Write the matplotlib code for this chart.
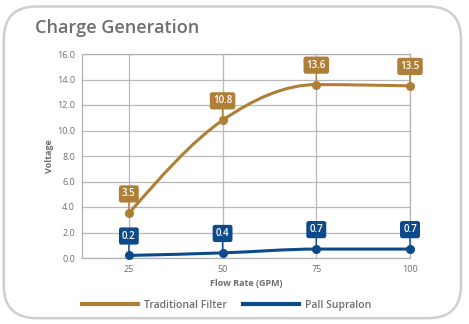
import numpy as np
import matplotlib.pyplot as plt
from matplotlib.path import Path
from matplotlib.patches import PathPatch, FancyBboxPatch
from matplotlib.lines import Line2D

plt.rcParams['font.family'] = ['Open Sans', 'DejaVu Sans']

flow = [25, 50, 75, 100]
traditional = [3.5, 10.8, 13.6, 13.5]
supralon = [0.2, 0.4, 0.7, 0.7]
yticks = [0, 2, 4, 6, 8, 10, 12, 14, 16]

gold = '#b07f37'
blue = '#0d4a8a'
grey_txt = '#6e6e6e'


def monotone_path(x, y):
    # monotone cubic (like d3 curveMonotoneX) as bezier segments
    x = np.asarray(x, float)
    y = np.asarray(y, float)
    h = np.diff(x)
    s = np.diff(y) / h
    n = len(x)
    t = np.zeros(n)
    for i in range(1, n - 1):
        if s[i - 1] * s[i] <= 0:
            t[i] = 0
        else:
            p = (s[i - 1] * h[i] + s[i] * h[i - 1]) / (h[i - 1] + h[i])
            t[i] = np.sign(s[i - 1]) * min(abs(s[i - 1]), abs(s[i]), 0.5 * abs(p)) * 2
    t[0] = (3 * s[0] - t[1]) / 2 if n > 2 else s[0]
    t[-1] = (3 * s[-1] - t[-2]) / 2 if n > 2 else s[-1]
    verts = [(x[0], y[0])]
    codes = [Path.MOVETO]
    for i in range(n - 1):
        d = h[i] / 3
        verts += [(x[i] + d, y[i] + d * t[i]), (x[i + 1] - d, y[i + 1] - d * t[i + 1]), (x[i + 1], y[i + 1])]
        codes += [Path.CURVE4] * 3
    return Path(verts, codes)


fig = plt.figure(figsize=(4.69, 3.24), dpi=100)

# card outline
card = FancyBboxPatch((0.008, 0.018), 0.975, 0.962, boxstyle='round,pad=0,rounding_size=0.07',
                      transform=fig.transFigure, fc='white', ec='#cfcfcf', lw=1.8,
                      mutation_aspect=469 / 324, zorder=-10)
fig.patches.append(card)

fig.text(0.075, 0.915, 'Charge Generation', fontsize=13, fontweight='semibold',
         color=grey_txt, va='center', ha='left')

ax = fig.add_axes([82 / 469, 1 - 258 / 324, (410 - 82) / 469, (258 - 54) / 324])
ax.patch.set_alpha(0)
ax.set_xlim(12.5, 100)
ax.set_ylim(0, 16)
ax.set_xticks(flow)
ax.set_yticks(yticks)
ax.set_yticklabels(['%.1f' % v for v in yticks])
ax.grid(True, color='#b8b8b8', lw=0.9)
ax.set_axisbelow(True)
for sp in ax.spines.values():
    sp.set_color('#b0b0b0')
    sp.set_linewidth(0.9)
ax.tick_params(axis='both', colors='#b0b0b0', labelcolor=grey_txt, labelsize=6.5, length=0, pad=5)

ax.set_xlabel('Flow Rate (GPM)', fontsize=6.5, fontweight='bold', color=grey_txt, labelpad=4)
ax.set_ylabel('Voltage', fontsize=6.5, fontweight='bold', color=grey_txt, labelpad=2)

for vals, col in [(traditional, gold), (supralon, blue)]:
    ax.add_patch(PathPatch(monotone_path(flow, vals), fc='none', ec=col, lw=2.2, capstyle='round', zorder=3))
    ax.plot(flow, vals, 'o', color=col, ms=5.5, zorder=4, clip_on=False)
    for xv, yv in zip(flow, vals):
        ax.annotate('%.1f' % yv, (xv, yv), xytext=(0, 14), textcoords='offset points',
                    ha='center', va='center', fontsize=7, fontweight='semibold', color='white',
                    bbox=dict(boxstyle='round,pad=0.32,rounding_size=0.25', fc=col, ec=col, lw=0),
                    arrowprops=dict(arrowstyle='-', color=col, lw=1.0, shrinkA=0, shrinkB=0),
                    zorder=5, annotation_clip=False)

handles = [Line2D([], [], color=gold, lw=3), Line2D([], [], color=blue, lw=3)]
fig.legend(handles, ['Traditional Filter', 'Pall Supralon'], loc='center', bbox_to_anchor=(0.483, 0.058),
           ncol=2, frameon=False, prop={'size': 7.5, 'weight': 'semibold'}, handlelength=5.4,
           handletextpad=0.55, columnspacing=1.5, labelcolor=grey_txt)

fig.savefig('out.png', dpi=100)
